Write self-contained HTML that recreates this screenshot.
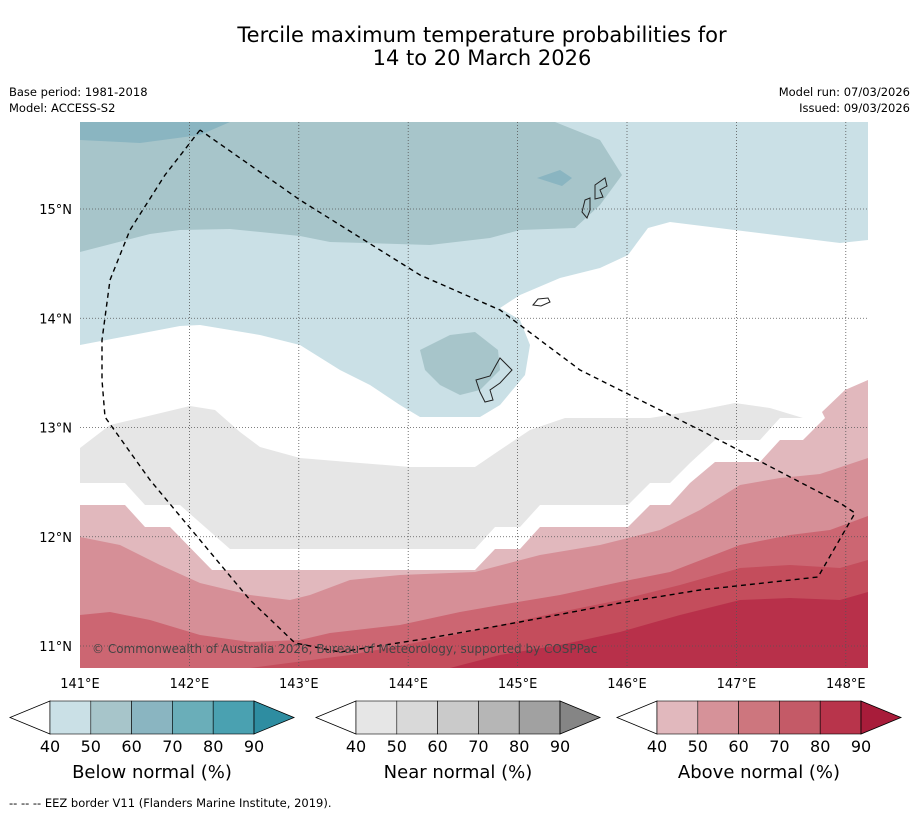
<!DOCTYPE html>
<html><head><meta charset="utf-8"><style>
body{margin:0;background:#fff;width:919px;height:816px;overflow:hidden;font-family:"Liberation Sans","DejaVu Sans",sans-serif}
svg text{font-family:"DejaVu Sans","Liberation Sans",sans-serif}
</style></head><body>
<svg id="c" width="919" height="816" viewBox="0 0 919 816" xmlns="http://www.w3.org/2000/svg">
<text x="482" y="42" font-size="21" text-anchor="middle">Tercile maximum temperature probabilities for</text>
<text x="482" y="65" font-size="21" text-anchor="middle">14 to 20 March 2026</text>
<text x="9" y="96" font-size="11.5">Base period: 1981-2018</text>
<text x="9" y="112" font-size="11.5">Model: ACCESS-S2</text>
<text x="910" y="96" font-size="11.5" text-anchor="end">Model run: 07/03/2026</text>
<text x="910" y="112" font-size="11.5" text-anchor="end">Issued: 09/03/2026</text>
<defs><clipPath id="mc"><rect x="80" y="122" width="788" height="546"/></clipPath></defs>
<g clip-path="url(#mc)">
<rect x="80" y="122" width="788" height="546" fill="#fff"/>
<polygon fill="#cae0e6" points="80,122 868,122 868,240 840,243 670,222 648,228 628,255 600,268 560,278 520,295 500,308 520,320 530,345 525,375 500,405 480,417 420,417 400,405 370,385 340,370 300,345 260,335 200,325 180,326 80,345"/>
<polygon fill="#a7c5ca" points="80,122 555,122 600,140 622,175 600,205 575,228 520,230 490,238 430,245 330,242 300,236 230,229 180,230 150,234 80,252"/>
<polygon fill="#a7c5ca" points="420,350 450,335 475,332 498,350 500,370 480,390 460,395 440,385 425,370"/>
<polygon fill="#8ab5c1" points="80,122 230,122 200,135 140,143 80,140"/>
<polygon fill="#8ab5c1" points="537,178 560,170 572,178 562,186"/>
<polygon fill="#e6e6e6" points="80,448 110,425 140,418 190,406 215,410 240,432 260,447 300,458 360,463 410,467 475,467 500,450 530,430 565,418 650,418 700,410 735,403 770,408 803,418 780,418 760,440 715,440 690,463 670,483 650,483 628,505 540,505 520,527 495,527 475,549 230,549 180,505 145,505 125,483 80,483"/>
<polygon fill="#e1b8bd" points="80,505 125,505 145,527 170,527 212,570 475,570 495,549 520,549 540,527 628,527 650,505 670,505 690,483 715,462 760,462 780,440 803,440 825,418 822,412 845,390 868,380 868,668 80,668"/>
<polygon fill="#d68f97" points="80,537 120,545 160,565 200,583 250,595 290,600 310,595 350,580 400,575 475,572 540,555 600,545 660,530 700,510 740,485 780,478 820,474 868,458 868,668 80,668"/>
<polygon fill="#cc6672" points="80,615 110,612 150,620 200,635 250,642 300,640 330,633 400,625 460,612 500,605 560,595 620,582 670,572 740,545 790,535 830,530 868,516 868,668 80,668"/>
<polygon fill="#c44d5c" points="250,668 350,655 430,640 500,625 560,612 620,600 680,585 740,568 790,565 840,568 868,560 868,668"/>
<polygon fill="#b8304a" points="450,668 500,655 560,645 620,632 680,615 740,600 790,598 840,600 868,592 868,668"/>
<g id="grid"></g>
<g fill="none" stroke="#222" stroke-width="1">
<path d="M500,358 L512,370 L500,383 L490,390 L493,400 L485,402 L480,392 L476,380 L490,376 L496,365 Z"/>
<path d="M533,305 L538,299 L548,298 L550,302 L541,306 Z"/>
<path d="M595,185 L605,178 L607,186 L600,190 L603,197 L595,199 Z"/>
<path d="M585,200 L590,198 L590,210 L587,218 L582,212 Z"/>
</g>
<polyline fill="none" stroke="#000" stroke-width="1.4" stroke-dasharray="5,4" points="200,130 165,175 130,230 110,280 102,340 102,380 105,417 150,480 200,540 250,600 295,643 340,652 430,638 520,622 620,603 700,590 818,577 855,513 840,503 700,430 580,370 500,310 420,275 300,200 200,130"/>
<text x="92" y="653" font-size="12" fill="#444">© Commonwealth of Australia 2026, Bureau of Meteorology, supported by COSPPac</text>
</g>
<g id="axes"></g>
<g id="bars"></g>
<text x="9" y="807" font-size="11.5">--  --  -- EEZ border V11 (Flanders Marine Institute, 2019).</text>
</svg>
<script>
const lonTicks=[141,142,143,144,145,146,147,148];
const latTicks=[11,12,13,14,15];
const levels=[40,50,60,70,80,90];
const barTitles=["Below normal (%)","Near normal (%)","Above normal (%)"];
const blueCols=["#cae0e6","#a7c5ca","#8ab5c1","#6aaeb9","#4aa1b1","#2e8da1"];
const greyCols=["#e6e6e6","#d9d9d9","#cacaca","#b6b6b6","#a1a1a1","#858585"];
const redCols=["#e1b8bd","#d69299","#cd767e","#c45a67","#b8344b","#a81c3a"];
const NS="http://www.w3.org/2000/svg";
const xs=l=>80+(l-141)*109.4, ys=t=>646-(t-11)*109.25;
function mk(tag,at,p){const e=document.createElementNS(NS,tag);for(const k in at)e.setAttribute(k,at[k]);p.appendChild(e);return e;}
const grid=document.getElementById('grid'),axes=document.getElementById('axes');
lonTicks.forEach(l=>{const x=xs(l);
 if(l>141){const ln=mk('line',{x1:x,x2:x,y1:122,y2:668,stroke:'#555','stroke-width':0.8,'stroke-dasharray':'1,2'},grid);
 
 }
 const t=mk('text',{x:x,y:688,'font-size':13,'text-anchor':'middle'},axes);t.textContent=l+'°E';
 
 });
latTicks.forEach(v=>{const y=ys(v);
 const ln=mk('line',{x1:80,x2:868,y1:y,y2:y,stroke:'#555','stroke-width':0.8,'stroke-dasharray':'1,2'},grid);
 
 
 const t=mk('text',{x:72,y:y+5,'font-size':13,'text-anchor':'end'},axes);t.textContent=v+'°N';
 
 });
const bars=document.getElementById('bars');
[[50,blueCols],[356,greyCols],[657,redCols]].forEach(([x0,cols],bi)=>{
 const w=40.8,y0=701,h=33,n=levels.length-1;
 const lt=mk('polygon',{points:`${x0},${y0} ${x0-40},${y0+h/2} ${x0},${y0+h}`,fill:'#fff',stroke:'#000','stroke-width':0.8},bars);
 
 
 for(let i=0;i<n;i++){const r=mk('rect',{x:x0+i*w,y:y0,width:w,height:h,fill:cols[i],stroke:'#000','stroke-width':0.6},bars);
  
  }
 const xe=x0+n*w;
 const rt=mk('polygon',{points:`${xe},${y0} ${xe+40},${y0+h/2} ${xe},${y0+h}`,fill:cols[5],stroke:'#000','stroke-width':0.8},bars);
 
 
 levels.forEach((v,i)=>{const t=mk('text',{x:x0+i*w,y:752,'font-size':16,'text-anchor':'middle'},bars);t.textContent=v;
  
  });
 const tt=mk('text',{x:x0+n*w/2,y:778,'font-size':18,'text-anchor':'middle'},bars);tt.textContent=barTitles[bi];
 
 
});
</script>
</body></html>
